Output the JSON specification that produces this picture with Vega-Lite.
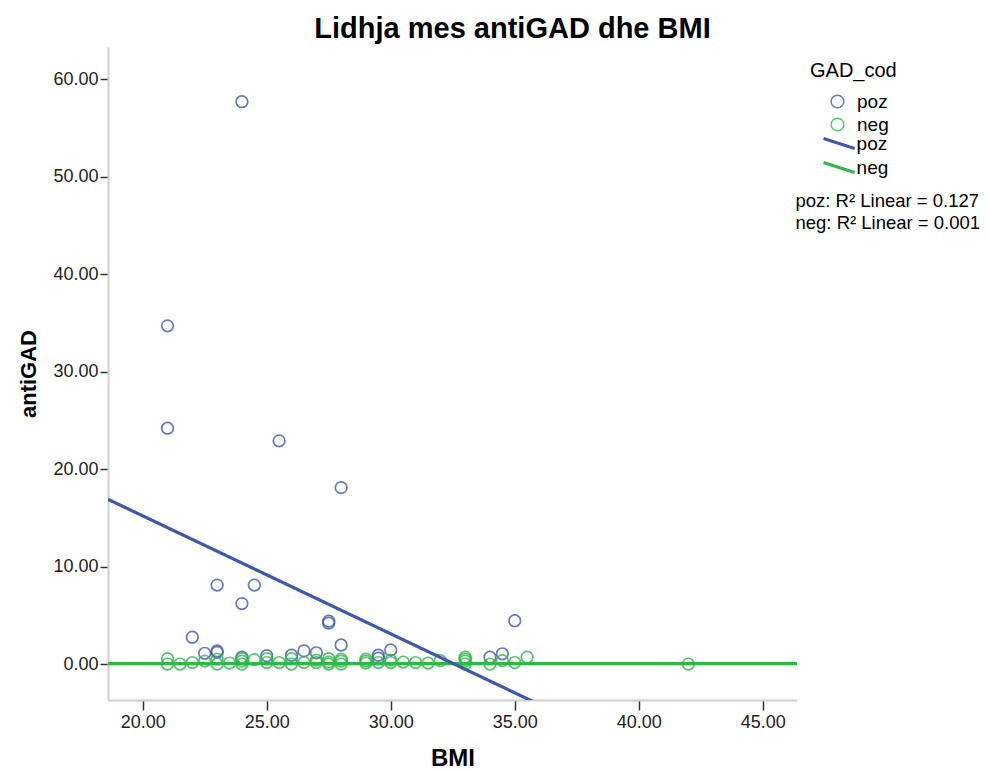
{
  "$schema": "https://vega.github.io/schema/vega-lite/v6.json",
  "width": 689,
  "height": 653,
  "autosize": {"type": "none"},
  "padding": {"left": 108, "top": 47, "right": 192, "bottom": 71},
  "background": "white",
  "config": {"font": "Liberation Sans", "view": {"stroke": null}},
  "title": {"text": "Lidhja mes antiGAD dhe BMI", "frame": "group", "anchor": "middle", "fontSize": 29, "fontWeight": "bold", "font": "Liberation Sans", "color": "#000", "offset": 3, "dx": 60},
  "datasets": {
    "pts": [
      {"GAD_cod": "poz", "BMI": 24.0, "antiGAD": 57.7},
      {"GAD_cod": "poz", "BMI": 21.0, "antiGAD": 34.7},
      {"GAD_cod": "poz", "BMI": 21.0, "antiGAD": 24.2},
      {"GAD_cod": "poz", "BMI": 25.5, "antiGAD": 22.9},
      {"GAD_cod": "poz", "BMI": 28.0, "antiGAD": 18.1},
      {"GAD_cod": "poz", "BMI": 23.0, "antiGAD": 8.1},
      {"GAD_cod": "poz", "BMI": 24.5, "antiGAD": 8.1},
      {"GAD_cod": "poz", "BMI": 24.0, "antiGAD": 6.2},
      {"GAD_cod": "poz", "BMI": 27.5, "antiGAD": 4.4},
      {"GAD_cod": "poz", "BMI": 27.5, "antiGAD": 4.2},
      {"GAD_cod": "poz", "BMI": 35.0, "antiGAD": 4.45},
      {"GAD_cod": "poz", "BMI": 22.0, "antiGAD": 2.75},
      {"GAD_cod": "poz", "BMI": 28.0, "antiGAD": 1.95},
      {"GAD_cod": "poz", "BMI": 30.0, "antiGAD": 1.45},
      {"GAD_cod": "poz", "BMI": 22.5, "antiGAD": 1.1},
      {"GAD_cod": "poz", "BMI": 23.0, "antiGAD": 1.35},
      {"GAD_cod": "poz", "BMI": 23.0, "antiGAD": 1.2},
      {"GAD_cod": "poz", "BMI": 24.0, "antiGAD": 0.7},
      {"GAD_cod": "poz", "BMI": 25.0, "antiGAD": 0.85},
      {"GAD_cod": "poz", "BMI": 26.0, "antiGAD": 0.9},
      {"GAD_cod": "poz", "BMI": 26.5, "antiGAD": 1.35},
      {"GAD_cod": "poz", "BMI": 27.0, "antiGAD": 1.15},
      {"GAD_cod": "poz", "BMI": 29.5, "antiGAD": 0.9},
      {"GAD_cod": "poz", "BMI": 29.5, "antiGAD": 0.6},
      {"GAD_cod": "poz", "BMI": 34.0, "antiGAD": 0.7},
      {"GAD_cod": "poz", "BMI": 34.5, "antiGAD": 1.05},
      {"GAD_cod": "neg", "BMI": 21.0, "antiGAD": 0.55},
      {"GAD_cod": "neg", "BMI": 21.0, "antiGAD": 0.0},
      {"GAD_cod": "neg", "BMI": 21.5, "antiGAD": 0.0},
      {"GAD_cod": "neg", "BMI": 22.0, "antiGAD": 0.15},
      {"GAD_cod": "neg", "BMI": 22.5, "antiGAD": 0.3},
      {"GAD_cod": "neg", "BMI": 23.0, "antiGAD": 0.5},
      {"GAD_cod": "neg", "BMI": 23.0, "antiGAD": 0.0},
      {"GAD_cod": "neg", "BMI": 23.5, "antiGAD": 0.1},
      {"GAD_cod": "neg", "BMI": 24.0, "antiGAD": 0.55},
      {"GAD_cod": "neg", "BMI": 24.0, "antiGAD": 0.0},
      {"GAD_cod": "neg", "BMI": 24.0, "antiGAD": 0.3},
      {"GAD_cod": "neg", "BMI": 24.5, "antiGAD": 0.45},
      {"GAD_cod": "neg", "BMI": 25.0, "antiGAD": 0.55},
      {"GAD_cod": "neg", "BMI": 25.0, "antiGAD": 0.15},
      {"GAD_cod": "neg", "BMI": 25.5, "antiGAD": 0.15},
      {"GAD_cod": "neg", "BMI": 26.0, "antiGAD": 0.55},
      {"GAD_cod": "neg", "BMI": 26.0, "antiGAD": 0.0},
      {"GAD_cod": "neg", "BMI": 26.5, "antiGAD": 0.15},
      {"GAD_cod": "neg", "BMI": 27.0, "antiGAD": 0.15},
      {"GAD_cod": "neg", "BMI": 27.0, "antiGAD": 0.4},
      {"GAD_cod": "neg", "BMI": 27.5, "antiGAD": 0.55},
      {"GAD_cod": "neg", "BMI": 27.5, "antiGAD": 0.0},
      {"GAD_cod": "neg", "BMI": 27.5, "antiGAD": 0.2},
      {"GAD_cod": "neg", "BMI": 28.0, "antiGAD": 0.5},
      {"GAD_cod": "neg", "BMI": 28.0, "antiGAD": 0.0},
      {"GAD_cod": "neg", "BMI": 28.0, "antiGAD": 0.3},
      {"GAD_cod": "neg", "BMI": 29.0, "antiGAD": 0.5},
      {"GAD_cod": "neg", "BMI": 29.0, "antiGAD": 0.1},
      {"GAD_cod": "neg", "BMI": 29.0, "antiGAD": 0.3},
      {"GAD_cod": "neg", "BMI": 29.5, "antiGAD": 0.15},
      {"GAD_cod": "neg", "BMI": 30.0, "antiGAD": 0.15},
      {"GAD_cod": "neg", "BMI": 30.0, "antiGAD": 0.4},
      {"GAD_cod": "neg", "BMI": 30.5, "antiGAD": 0.2},
      {"GAD_cod": "neg", "BMI": 31.0, "antiGAD": 0.15},
      {"GAD_cod": "neg", "BMI": 31.5, "antiGAD": 0.1},
      {"GAD_cod": "neg", "BMI": 32.0, "antiGAD": 0.35},
      {"GAD_cod": "neg", "BMI": 33.0, "antiGAD": 0.7},
      {"GAD_cod": "neg", "BMI": 33.0, "antiGAD": 0.3},
      {"GAD_cod": "neg", "BMI": 33.0, "antiGAD": 0.0},
      {"GAD_cod": "neg", "BMI": 33.0, "antiGAD": 0.5},
      {"GAD_cod": "neg", "BMI": 34.0, "antiGAD": 0.0},
      {"GAD_cod": "neg", "BMI": 34.5, "antiGAD": 0.35},
      {"GAD_cod": "neg", "BMI": 35.0, "antiGAD": 0.15},
      {"GAD_cod": "neg", "BMI": 35.5, "antiGAD": 0.7},
      {"GAD_cod": "neg", "BMI": 42.0, "antiGAD": 0.0}
    ],
    "fits": [
      {"fit": "neg fit", "BMI": 18.6, "antiGAD": 0.05, "r2": "neg: R² Linear = 0.001"},
      {"fit": "neg fit", "BMI": 46.38, "antiGAD": 0.05, "r2": "neg: R² Linear = 0.001"},
      {"fit": "poz fit", "BMI": 18.6, "antiGAD": 16.9, "r2": "poz: R² Linear = 0.127"},
      {"fit": "poz fit", "BMI": 46.38, "antiGAD": -16.73, "r2": "poz: R² Linear = 0.127"}
    ]
  },
  "layer": [
    {
      "data": {"name": "pts"},
      "mark": {"type": "point", "shape": "circle", "filled": false, "size": 135, "strokeWidth": 1.7, "opacity": 0.8},
      "encoding": {
        "x": {"field": "BMI", "type": "quantitative", "scale": {"domain": [18.6, 46.38], "nice": false, "zero": false},
          "axis": {"values": [20, 25, 30, 35, 40, 45], "format": ".2f", "title": "BMI", "grid": false, "domainColor": "#cfcfcf", "domainWidth": 2, "tickColor": "#333", "tickSize": 10, "tickWidth": 1.5, "labelFontSize": 18, "labelFont": "Liberation Sans", "labelColor": "#222", "labelPadding": 3, "titleFont": "Liberation Sans", "titleFontSize": 24, "titleFontWeight": "bold", "titleColor": "#000", "titlePadding": 15}},
        "y": {"field": "antiGAD", "type": "quantitative", "scale": {"domain": [-3.69, 63.31], "nice": false, "zero": false},
          "axis": {"values": [0, 10, 20, 30, 40, 50, 60], "format": ".2f", "title": "antiGAD", "grid": false, "domainColor": "#cfcfcf", "domainWidth": 2, "tickColor": "#333", "tickSize": 8, "tickWidth": 1.5, "labelFontSize": 18, "labelFont": "Liberation Sans", "labelColor": "#222", "labelPadding": 2, "titleFont": "Liberation Sans", "titleFontSize": 22, "titleFontWeight": "bold", "titleColor": "#000", "titlePadding": 12}},
        "color": {"field": "GAD_cod", "type": "nominal", "scale": {"domain": ["poz", "neg"], "range": ["#3E58AC", "#2EB848"]},
          "legend": {"title": "GAD_cod", "orient": "none", "legendX": 702, "legendY": 14, "titleFontSize": 20, "titleFontWeight": "normal", "titleFont": "Liberation Sans", "titleColor": "#000", "titlePadding": 11, "labelFontSize": 19, "labelFont": "Liberation Sans", "labelColor": "#000", "symbolType": "circle", "symbolSize": 160, "symbolStrokeWidth": 1.5, "symbolOffset": 18, "labelOffset": 10, "rowPadding": 3}}
      }
    },
    {
      "data": {"name": "fits"},
      "mark": {"type": "line", "strokeWidth": 3.2, "clip": true},
      "encoding": {
        "x": {"field": "BMI", "type": "quantitative"},
        "y": {"field": "antiGAD", "type": "quantitative"},
        "stroke": {"field": "fit", "type": "nominal", "scale": {"domain": ["poz fit", "neg fit"], "range": ["#3E58AC", "#2EB848"]},
          "legend": {"title": null, "orient": "none", "legendX": 702, "legendY": 86, "labelExpr": "split(datum.label, ' ')[0]", "labelFontSize": 19, "labelFont": "Liberation Sans", "labelColor": "#000", "symbolType": "M-1.8,-0.58L1.8,0.58", "symbolSize": 300, "symbolStrokeWidth": 3, "symbolFillColor": "transparent", "symbolOffset": 18.6, "labelOffset": 7, "rowPadding": 1}},
        "strokeDash": {"field": "r2", "type": "nominal", "scale": {"domain": ["poz: R² Linear = 0.127", "neg: R² Linear = 0.001"], "range": [[1, 0], [1, 0]]},
          "legend": {"title": null, "orient": "none", "legendX": 669, "legendY": 145, "labelFontSize": 18.5, "labelFont": "Liberation Sans", "labelColor": "#000", "labelLimit": 400, "symbolSize": 0, "symbolStrokeWidth": 0, "symbolOpacity": 0, "symbolOffset": 0, "labelOffset": 0, "rowPadding": 3}}
      }
    }
  ]
}
